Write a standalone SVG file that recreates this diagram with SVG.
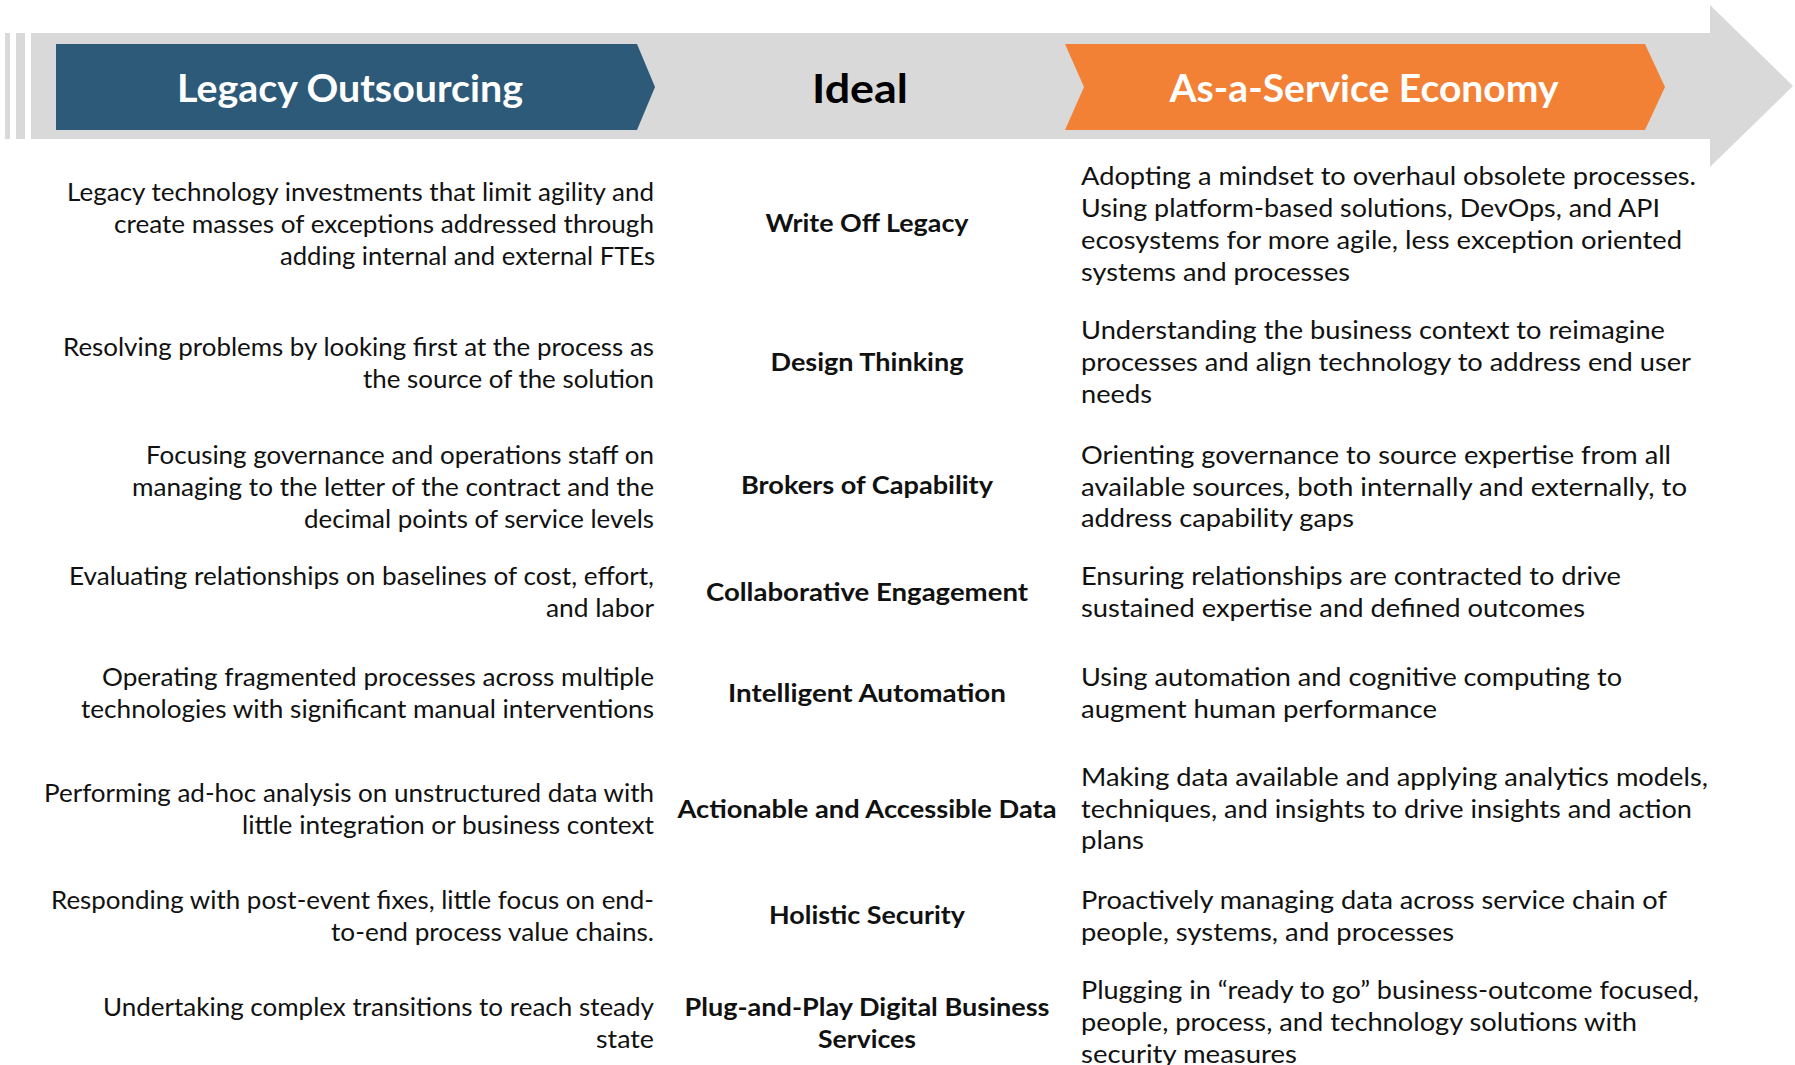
<svg xmlns="http://www.w3.org/2000/svg" width="1795" height="1065" viewBox="0 0 1795 1065">
<style>
  .band{fill:#D9D9D9}
  .hdr{font-family:Lato,"Open Sans","Liberation Sans",sans-serif;font-weight:700;font-size:38px;text-anchor:middle}
  .body{font-family:Lato,"Open Sans","Liberation Sans",sans-serif;font-size:25px;fill:#111}
  .l{text-anchor:end}
  .c{text-anchor:middle;font-weight:700}
  .r{text-anchor:start}
</style>
<rect width="1795" height="1065" fill="#FFFFFF"/>
<g id="header">
  <rect class="band" x="5" y="33" width="5" height="106"/>
  <rect class="band" x="16" y="33" width="9" height="106"/>
  <polygon class="band" points="31,33 1710,33 1710,5 1793,86 1710,167 1710,139 31,139"/>
  <g id="legacy-outsourcing">
    <polygon points="56,44 637,44 655,87 637,130 56,130" fill="#2D5A79"/>
    <text class="hdr" x="350" y="102" fill="#FFFFFF" textLength="346" lengthAdjust="spacingAndGlyphs">Legacy Outsourcing</text>
  </g>
  <g id="ideal">
    <text class="hdr" x="860" y="103" fill="#000000" style="font-size:40px" textLength="96" lengthAdjust="spacingAndGlyphs">Ideal</text>
  </g>
  <g id="as-a-service-economy">
    <polygon points="1065,44 1645,44 1665,87 1645,130 1065,130 1084,87" fill="#F28135"/>
    <text class="hdr" x="1364" y="102" fill="#FFFFFF" textLength="389" lengthAdjust="spacingAndGlyphs">As-a-Service Economy</text>
  </g>
</g>
<g id="connectors"/>
<g id="row-write-off-legacy" class="body">
  <text class="l" x="654" y="201" textLength="587" lengthAdjust="spacingAndGlyphs">Legacy technology investments that limit agility and</text>
  <text class="l" x="654" y="233" textLength="540" lengthAdjust="spacingAndGlyphs">create masses of exceptions addressed through</text>
  <text class="l" x="655" y="265" textLength="375" lengthAdjust="spacingAndGlyphs">adding internal and external FTEs</text>
  <text class="c" x="867" y="232" textLength="203" lengthAdjust="spacingAndGlyphs">Write Off Legacy</text>
  <text class="r" x="1081" y="185" textLength="615" lengthAdjust="spacingAndGlyphs">Adopting a mindset to overhaul obsolete processes.</text>
  <text class="r" x="1081" y="217" textLength="579" lengthAdjust="spacingAndGlyphs">Using platform-based solutions, DevOps, and API</text>
  <text class="r" x="1081" y="249" textLength="601" lengthAdjust="spacingAndGlyphs">ecosystems for more agile, less exception oriented</text>
  <text class="r" x="1081" y="281" textLength="269" lengthAdjust="spacingAndGlyphs">systems and processes</text>
</g>
<g id="row-design-thinking" class="body">
  <text class="l" x="654" y="356" textLength="591" lengthAdjust="spacingAndGlyphs">Resolving problems by looking first at the process as</text>
  <text class="l" x="654" y="388" textLength="291" lengthAdjust="spacingAndGlyphs">the source of the solution</text>
  <text class="c" x="867" y="371" textLength="193" lengthAdjust="spacingAndGlyphs">Design Thinking</text>
  <text class="r" x="1081" y="339" textLength="584" lengthAdjust="spacingAndGlyphs">Understanding the business context to reimagine</text>
  <text class="r" x="1081" y="371" textLength="610" lengthAdjust="spacingAndGlyphs">processes and align technology to address end user</text>
  <text class="r" x="1081" y="403" textLength="71" lengthAdjust="spacingAndGlyphs">needs</text>
</g>
<g id="row-brokers-of-capability" class="body">
  <text class="l" x="654" y="464" textLength="508" lengthAdjust="spacingAndGlyphs">Focusing governance and operations staff on</text>
  <text class="l" x="654" y="496" textLength="522" lengthAdjust="spacingAndGlyphs">managing to the letter of the contract and the</text>
  <text class="l" x="654" y="528" textLength="350" lengthAdjust="spacingAndGlyphs">decimal points of service levels</text>
  <text class="c" x="867" y="494" textLength="252" lengthAdjust="spacingAndGlyphs">Brokers of Capability</text>
  <text class="r" x="1081" y="464" textLength="590" lengthAdjust="spacingAndGlyphs">Orienting governance to source expertise from all</text>
  <text class="r" x="1081" y="496" textLength="606" lengthAdjust="spacingAndGlyphs">available sources, both internally and externally, to</text>
  <text class="r" x="1081" y="527" textLength="273" lengthAdjust="spacingAndGlyphs">address capability gaps</text>
</g>
<g id="row-collaborative-engagement" class="body">
  <text class="l" x="654" y="585" textLength="585" lengthAdjust="spacingAndGlyphs">Evaluating relationships on baselines of cost, effort,</text>
  <text class="l" x="654" y="617" textLength="108" lengthAdjust="spacingAndGlyphs">and labor</text>
  <text class="c" x="867" y="601" textLength="322" lengthAdjust="spacingAndGlyphs">Collaborative Engagement</text>
  <text class="r" x="1081" y="585" textLength="540" lengthAdjust="spacingAndGlyphs">Ensuring relationships are contracted to drive</text>
  <text class="r" x="1081" y="617" textLength="504" lengthAdjust="spacingAndGlyphs">sustained expertise and defined outcomes</text>
</g>
<g id="row-intelligent-automation" class="body">
  <text class="l" x="654" y="686" textLength="552" lengthAdjust="spacingAndGlyphs">Operating fragmented processes across multiple</text>
  <text class="l" x="654" y="718" textLength="573" lengthAdjust="spacingAndGlyphs">technologies with significant manual interventions</text>
  <text class="c" x="867" y="702" textLength="278" lengthAdjust="spacingAndGlyphs">Intelligent Automation</text>
  <text class="r" x="1081" y="686" textLength="541" lengthAdjust="spacingAndGlyphs">Using automation and cognitive computing to</text>
  <text class="r" x="1081" y="718" textLength="356" lengthAdjust="spacingAndGlyphs">augment human performance</text>
</g>
<g id="row-actionable-data" class="body">
  <text class="l" x="654" y="802" textLength="610" lengthAdjust="spacingAndGlyphs">Performing ad-hoc analysis on unstructured data with</text>
  <text class="l" x="654" y="834" textLength="412" lengthAdjust="spacingAndGlyphs">little integration or business context</text>
  <text class="c" x="867" y="818" textLength="379" lengthAdjust="spacingAndGlyphs">Actionable and Accessible Data</text>
  <text class="r" x="1081" y="786" textLength="627" lengthAdjust="spacingAndGlyphs">Making data available and applying analytics models,</text>
  <text class="r" x="1081" y="818" textLength="611" lengthAdjust="spacingAndGlyphs">techniques, and insights to drive insights and action</text>
  <text class="r" x="1081" y="849" textLength="63" lengthAdjust="spacingAndGlyphs">plans</text>
</g>
<g id="row-holistic-security" class="body">
  <text class="l" x="654" y="909" textLength="603" lengthAdjust="spacingAndGlyphs">Responding with post-event fixes, little focus on end-</text>
  <text class="l" x="654" y="941" textLength="323" lengthAdjust="spacingAndGlyphs">to-end process value chains.</text>
  <text class="c" x="867" y="924" textLength="196" lengthAdjust="spacingAndGlyphs">Holistic Security</text>
  <text class="r" x="1081" y="909" textLength="586" lengthAdjust="spacingAndGlyphs">Proactively managing data across service chain of</text>
  <text class="r" x="1081" y="941" textLength="373" lengthAdjust="spacingAndGlyphs">people, systems, and processes</text>
</g>
<g id="row-plug-and-play" class="body">
  <text class="l" x="654" y="1016" textLength="551" lengthAdjust="spacingAndGlyphs">Undertaking complex transitions to reach steady</text>
  <text class="l" x="654" y="1048" textLength="58" lengthAdjust="spacingAndGlyphs">state</text>
  <text class="c" x="867" y="1016" textLength="365" lengthAdjust="spacingAndGlyphs">Plug-and-Play Digital Business</text>
  <text class="c" x="867" y="1048" textLength="98" lengthAdjust="spacingAndGlyphs">Services</text>
  <text class="r" x="1081" y="999" textLength="618" lengthAdjust="spacingAndGlyphs">Plugging in “ready to go” business-outcome focused,</text>
  <text class="r" x="1081" y="1031" textLength="556" lengthAdjust="spacingAndGlyphs">people, process, and technology solutions with</text>
  <text class="r" x="1081" y="1063" textLength="216" lengthAdjust="spacingAndGlyphs">security measures</text>
</g>
</svg>
